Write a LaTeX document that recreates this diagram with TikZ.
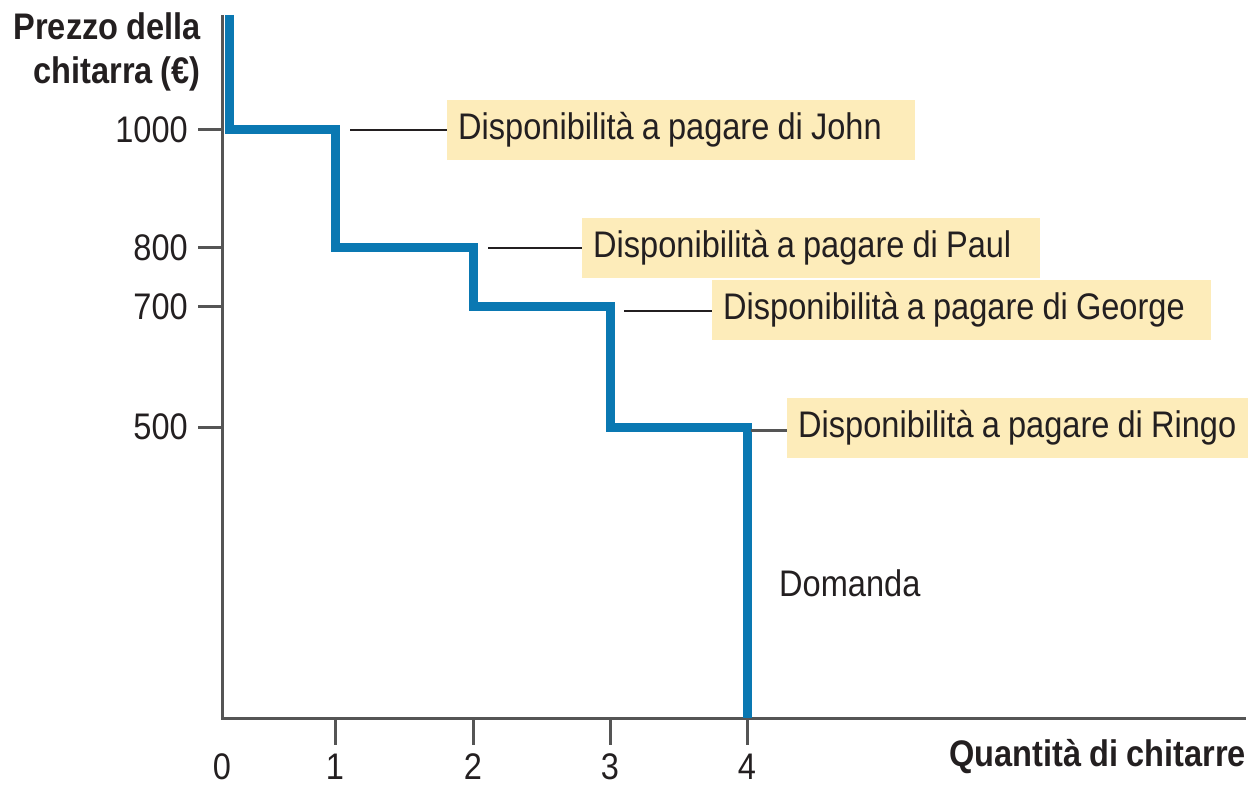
\documentclass[tikz,border=0pt]{standalone}
\usepackage{fontspec}
\setmainfont{Liberation Sans}[FakeStretch=0.88,WordSpace=0.9]
\definecolor{ink}{RGB}{35,31,32}
\definecolor{axisgray}{RGB}{85,85,85}
\definecolor{demandblue}{RGB}{10,120,178}
\definecolor{boxfill}{RGB}{253,236,186}
\begin{document}
\begin{tikzpicture}[x=1pt,y=-1pt,
  every node/.style={inner sep=0pt,text=ink},
  lbl/.style={fill=boxfill,anchor=west,minimum height=60pt,inner xsep=11pt,
    font=\fontsize{37}{44}\selectfont},
  num/.style={font=\fontsize{37}{44}\selectfont},
  ttl/.style={font=\fontsize{37}{44}\selectfont\bfseries},
  axisline/.style={draw=axisgray,line width=3pt},
  tick/.style={draw=axisgray,line width=3pt},
  demand/.style={draw=demandblue,line width=9pt,line join=miter},
  lead/.style={draw=ink,line width=2pt},
  leadgray/.style={draw=axisgray,line width=3pt}]
\useasboundingbox (0,0) rectangle (1251,786);

% axes
\coordinate (top) at (222,15);
\coordinate (O) at (222,718);
\coordinate (xend) at (1246,718);
\draw[axisline] (top) -- (O) -- (xend);

% y ticks and labels
\foreach \yy/\lab/\nm in {130/1000/a,248/800/b,307/700/c,427/500/d}{
  \coordinate (yt\nm) at (198,\yy);
  \coordinate (ya\nm) at (222,\yy);
  \draw[tick] (yt\nm) -- (ya\nm);
  \node[num,anchor=east] (yl\nm) at (188,\yy) {\lab};
}
% x ticks and labels
\node[num] (xl0) at (222,767) {0};
\foreach \xx/\lab in {335/1,473/2,610/3,747/4}{
  \coordinate (xt\lab) at (\xx,718);
  \coordinate (xb\lab) at (\xx,745);
  \draw[tick] (xt\lab) -- (xb\lab);
  \node[num] (xl\lab) at (\xx,767) {\lab};
}

% axis titles
\node[ttl,anchor=north east,align=right] (ytitle) at (201,12) {Prezzo della\\chitarra (€)};
\node[ttl,anchor=east] (xtitle) at (1246,757) {Quantità di chitarre};

% demand curve
\coordinate (d0) at (229,15);
\coordinate (d1) at (229,130);
\coordinate (d2) at (335,130);
\coordinate (d3) at (335,248);
\coordinate (d4) at (473,248);
\coordinate (d5) at (473,307);
\coordinate (d6) at (610,307);
\coordinate (d7) at (610,427);
\coordinate (d8) at (747,427);
\coordinate (d9) at (747,718);
\draw[demand] (d0) -- (d1) -- (d2) -- (d3) -- (d4) -- (d5) -- (d6) -- (d7) -- (d8) -- (d9);

% labels
\node[lbl] (john) at (447,130) {\makebox[446pt][l]{Disponibilità a pagare di John}};
\node[lbl] (paul) at (582,248) {\makebox[436pt][l]{Disponibilità a pagare di Paul}};
\node[lbl] (george) at (712,310) {\makebox[477pt][l]{Disponibilità a pagare di George}};
\node[lbl] (ringo) at (787,428) {\makebox[439pt][l]{Disponibilità a pagare di Ringo}};

\coordinate (lj) at (350,130);
\coordinate (lp) at (488,248);
\coordinate (lg) at (624,311);
\coordinate (lr) at (751,430);
\draw[lead] (lj) -- (john.west |- lj);
\draw[lead] (lp) -- (paul.west |- lp);
\draw[lead] (lg) -- (george.west |- lg);
\draw[leadgray] (lr) -- (ringo.west |- lr);

\node[num,anchor=west] (dom) at (779,583) {Domanda};
\end{tikzpicture}
\end{document}
